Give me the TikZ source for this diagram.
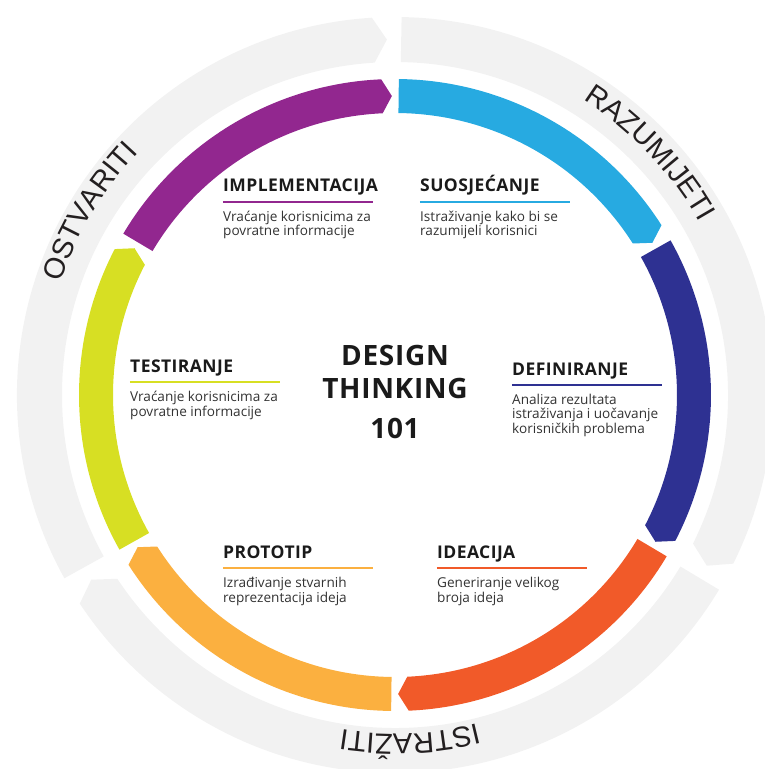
\documentclass[tikz,border=0pt]{standalone}
\usepackage{fontspec}
\usetikzlibrary{decorations.text}
\newfontfamily\uifont{Open Sans}
\newfontfamily\titlefont{Open Sans}[LetterSpace=2.5]
\newfontfamily\ringfont{Liberation Sans}
\definecolor{cPurple}{HTML}{92278F}
\definecolor{cBlue}{HTML}{27AAE1}
\definecolor{cNavy}{HTML}{2E3192}
\definecolor{cRed}{HTML}{F15A29}
\definecolor{cOrange}{HTML}{FBB040}
\definecolor{cLime}{HTML}{D7DF23}
\definecolor{cGray}{HTML}{F2F2F2}
\definecolor{cInk}{HTML}{1A1A1A}
\definecolor{cBody}{HTML}{333333}
\definecolor{cRing}{HTML}{231F20}
% color, flat angle, shoulder angle, tip angle, inner r, outer r, mid r
\newcommand\ringseg[7]{\fill[#1] ({#2}:#6) arc[start angle={#2}, end angle={#3}, radius=#6] -- ({#4}:#7) -- ({#3}:#5) arc[start angle={#3}, end angle={#2}, radius=#5] -- cycle;}
\newcommand\cseg[3]{\ringseg{#1}{#2-0.7}{#3+2.5}{#3+0.6}{282pt}{316pt}{299pt}}
\newcommand\gseg[3]{\ringseg{#1}{#2-1.0}{#3+3.5}{#3+1.3}{333pt}{378pt}{355.5pt}}
\tikzset{
  ttl/.style={anchor=base west, inner sep=0pt, font=\titlefont\bfseries\fontsize{17.5}{20}\selectfont, text=cInk},
  bdy/.style={anchor=base west, inner sep=0pt, font=\uifont\fontsize{13.6}{15}\selectfont, text=cBody},
  ctr/.style={anchor=base, inner sep=0pt, font=\titlefont\bfseries\fontsize{28}{34}\selectfont, text=cInk},
  rulebar/.style={line width=2pt},
  ringtext/.style={decorate, decoration={text along path, text align=center, text color=cRing, text={|\ringfont\fontsize{29}{30}\selectfont|#1}}}
}
\begin{document}
\begin{tikzpicture}
\useasboundingbox (-395pt,-374pt) rectangle (369pt,395pt);
% gray outer ring
\gseg{cGray}{90}{-30}
\gseg{cGray}{-30}{-150}
\gseg{cGray}{-150}{-270}
% colored ring
\cseg{cBlue}{90}{30}
\cseg{cNavy}{30}{-30}
\cseg{cRed}{-30}{-90}
\cseg{cOrange}{-90}{-150}
\cseg{cLime}{-150}{-210}
\cseg{cPurple}{150}{90}
% ring labels
\path[ringtext={RAZUMIJETI}] (88.5:350pt) arc[start angle=88.5, end angle=-1.5, radius=350pt];
\path[ringtext={OSTVARITI}] (194:353pt) arc[start angle=194, end angle=104, radius=353pt];
\path[ringtext={ISTRAŽITI}] (-42.5:339pt) arc[start angle=-42.5, end angle=-132.5, radius=339pt];
% center
\node[ctr] (d1) at (0pt,30pt) {DESIGN};
\node[ctr] (d2) at (0pt,-3pt) {THINKING};
\node[ctr] (d3) at (0pt,-43pt) {101};
% IMPLEMENTACIJA
\node[ttl] (t1) at (-172pt,203pt) {IMPLEMENTACIJA};
\coordinate (r1a) at (-172pt,193pt); \coordinate (r1b) at (-22pt,193pt);
\draw[rulebar, cPurple] (r1a) -- (r1b);
\node[bdy] (b1a) at (-172pt,173.5pt) {Vraćanje korisnicima za};
\node[bdy] (b1b) at (-172pt,159pt) {povratne informacije};
% SUOSJECANJE
\node[ttl] (t2) at (25pt,203pt) {SUOSJEĆANJE};
\coordinate (r2a) at (25pt,193pt); \coordinate (r2b) at (175pt,193pt);
\draw[rulebar, cBlue] (r2a) -- (r2b);
\node[bdy] (b2a) at (25pt,173.5pt) {Istraživanje kako bi se};
\node[bdy] (b2b) at (25pt,159pt) {razumijeli korisnici};
% TESTIRANJE
\node[ttl] (t3) at (-265pt,23pt) {TESTIRANJE};
\coordinate (r3a) at (-265pt,13pt); \coordinate (r3b) at (-115pt,13pt);
\draw[rulebar, cLime] (r3a) -- (r3b);
\node[bdy] (b3a) at (-265pt,-6.5pt) {Vraćanje korisnicima za};
\node[bdy] (b3b) at (-265pt,-21pt) {povratne informacije};
% DEFINIRANJE
\node[ttl] (t4) at (117pt,20pt) {DEFINIRANJE};
\coordinate (r4a) at (117pt,10pt); \coordinate (r4b) at (267pt,10pt);
\draw[rulebar, cNavy] (r4a) -- (r4b);
\node[bdy] (b4a) at (117pt,-9pt) {Analiza rezultata};
\node[bdy] (b4b) at (117pt,-23.5pt) {istraživanja i uočavanje};
\node[bdy] (b4c) at (117pt,-38pt) {korisničkih problema};
% PROTOTIP
\node[ttl] (t5) at (-172pt,-163pt) {PROTOTIP};
\coordinate (r5a) at (-172pt,-173pt); \coordinate (r5b) at (-22pt,-173pt);
\draw[rulebar, cOrange] (r5a) -- (r5b);
\node[bdy] (b5a) at (-172pt,-192.5pt) {Izrađivanje stvarnih};
\node[bdy] (b5b) at (-172pt,-207pt) {reprezentacija ideja};
% IDEACIJA
\node[ttl] (t6) at (42pt,-163pt) {IDEACIJA};
\coordinate (r6a) at (42pt,-173pt); \coordinate (r6b) at (192pt,-173pt);
\draw[rulebar, cRed] (r6a) -- (r6b);
\node[bdy] (b6a) at (42pt,-192.5pt) {Generiranje velikog};
\node[bdy] (b6b) at (42pt,-207pt) {broja ideja};
\end{tikzpicture}
\end{document}
